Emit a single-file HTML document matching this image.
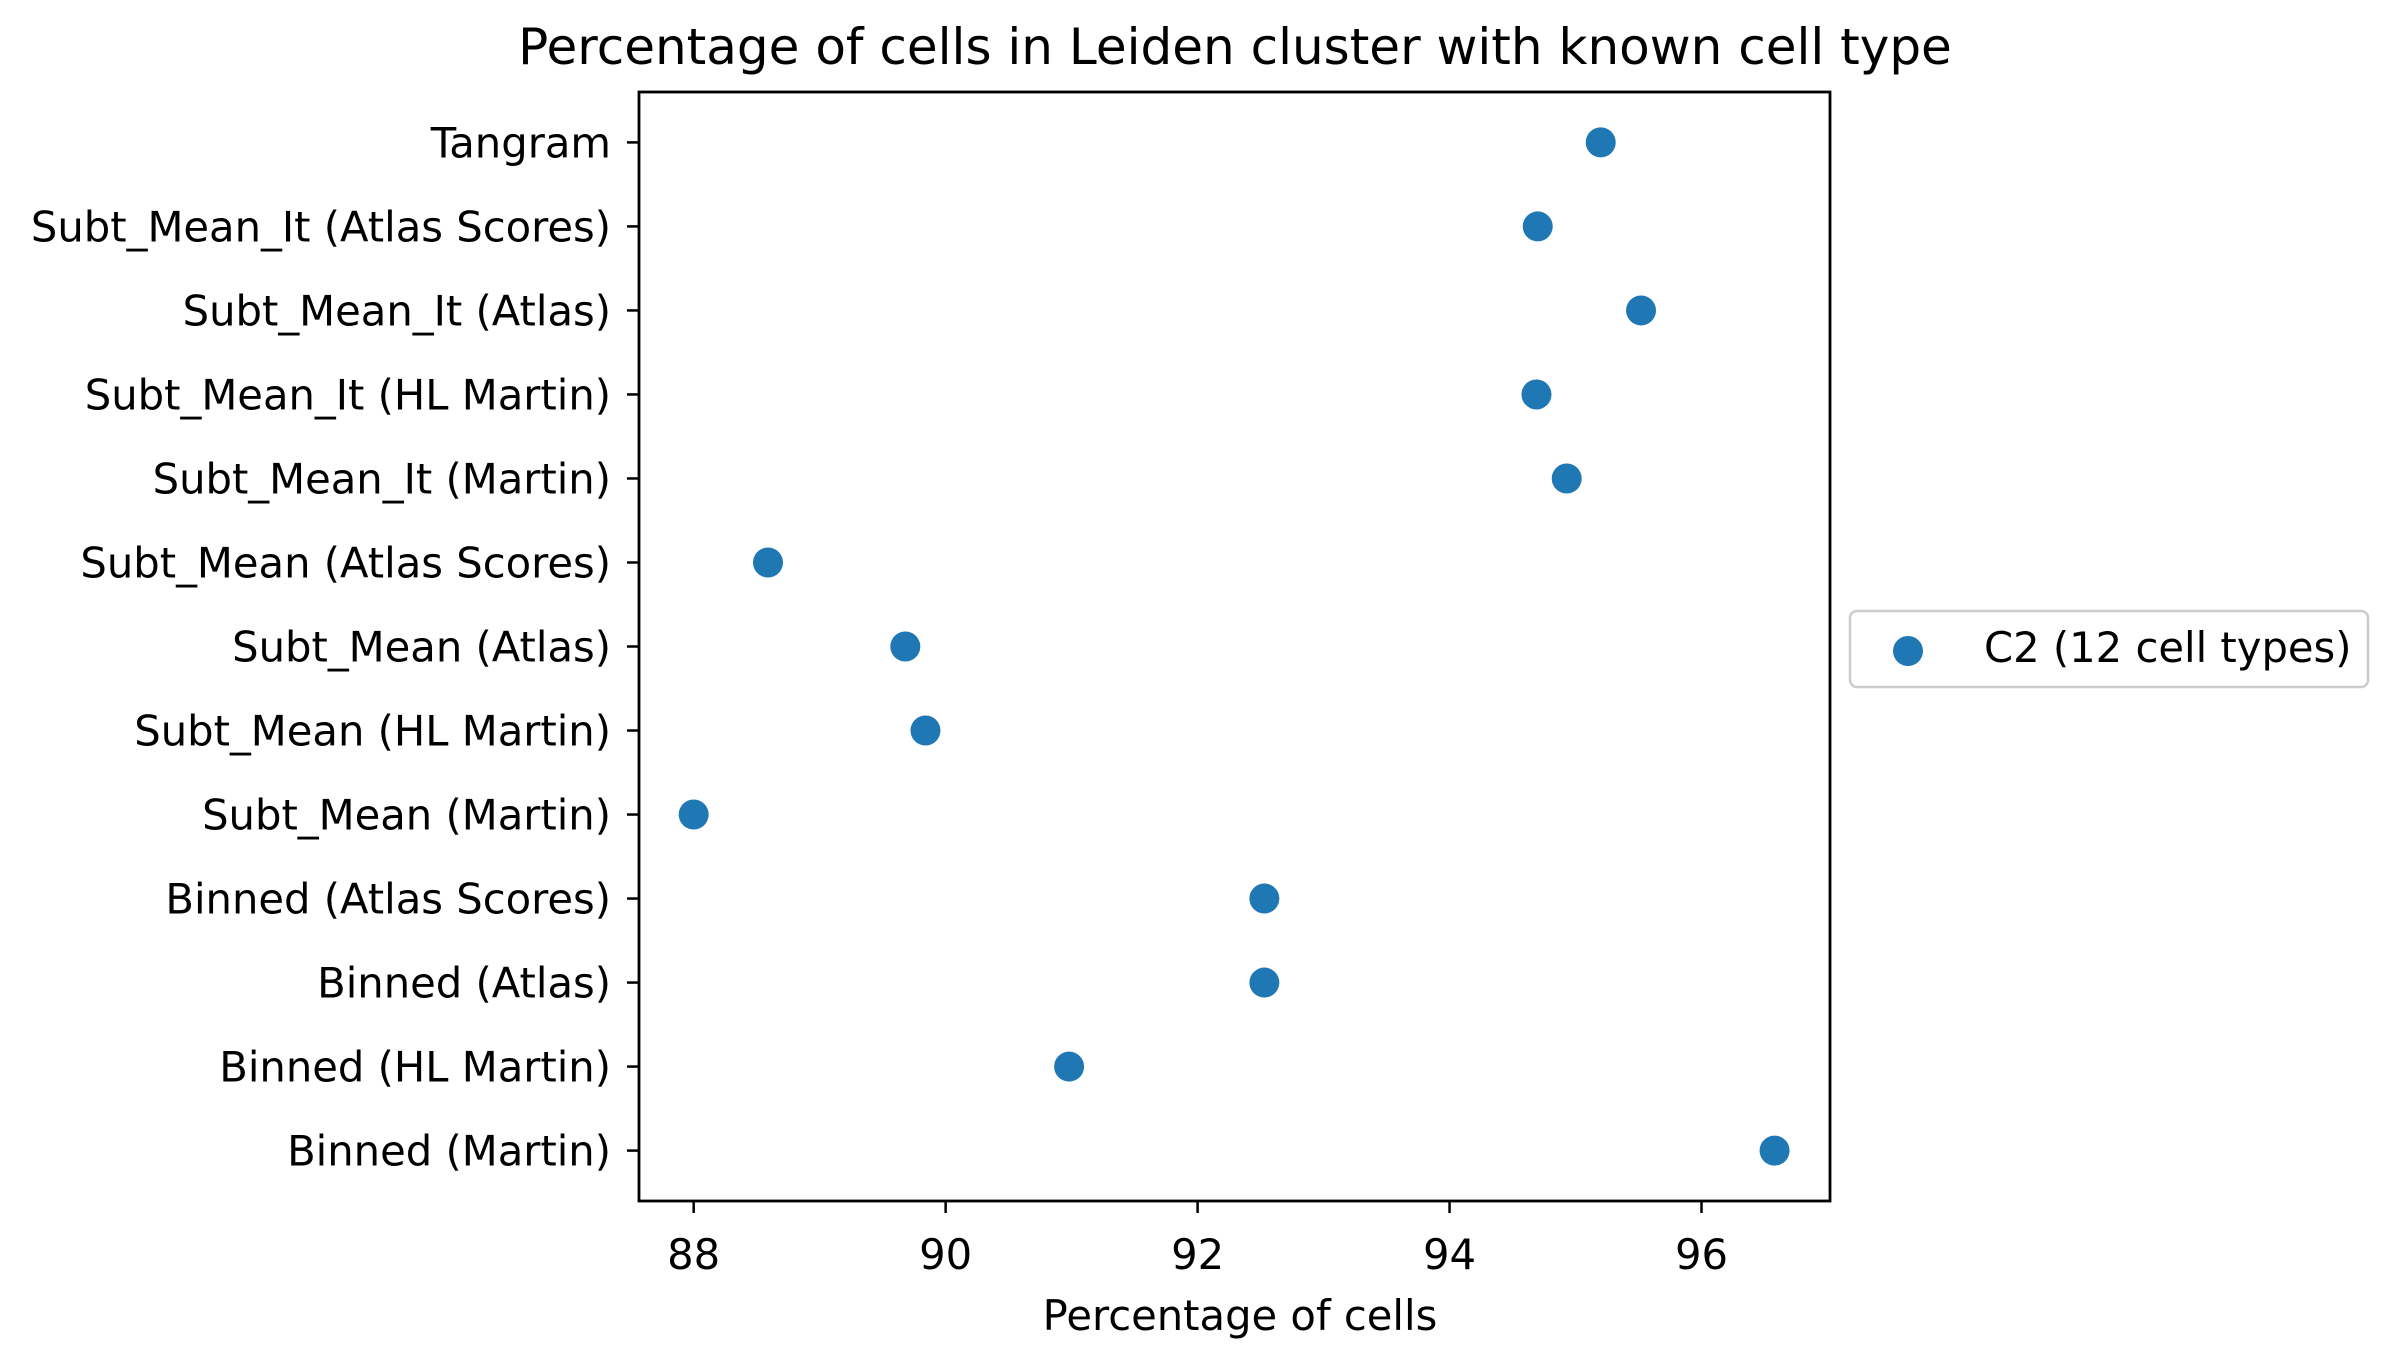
<!DOCTYPE html>
<html><head><meta charset="utf-8"><style>
html,body{margin:0;padding:0;background:#fff;}
svg{display:block;font-family:"DejaVu Sans","Liberation Sans",sans-serif;}
</style></head><body>
<svg id="chart" width="2397" height="1361" viewBox="0 0 2397 1361" xmlns="http://www.w3.org/2000/svg">
<rect width="2397" height="1361" fill="#fff"/>
<text x="1235" y="64" font-size="50" text-anchor="middle">Percentage of cells in Leiden cluster with known cell type</text>
<g id="plot"></g>
<rect x="639" y="92" width="1191" height="1109" fill="none" stroke="#000" stroke-width="2.8"/>
<text x="1240" y="1330" font-size="41.7" text-anchor="middle">Percentage of cells</text>
<g>
<rect x="1850" y="611" width="518" height="76" rx="7" fill="#fff" stroke="#ccc" stroke-width="2.5"/>
<circle cx="1908" cy="651" r="15" fill="#1f77b4"/>
<text x="1984" y="662" font-size="41.7">C2 (12 cell types)</text>
</g>
</svg>
<script>
const categories = ["Binned (Martin)","Binned (HL Martin)","Binned (Atlas)","Binned (Atlas Scores)","Subt_Mean (Martin)","Subt_Mean (HL Martin)","Subt_Mean (Atlas)","Subt_Mean (Atlas Scores)","Subt_Mean_It (Martin)","Subt_Mean_It (HL Martin)","Subt_Mean_It (Atlas)","Subt_Mean_It (Atlas Scores)","Tangram"];
const values = [96.58,90.98,92.53,92.53,88.0,89.84,89.68,88.59,94.93,94.69,95.52,94.70,95.2];
const xTicks = [88,90,92,94,96];
const NS = "http://www.w3.org/2000/svg";
const L=639,R=1830,T=92,B=1201, xmin=87.566, xmax=97.02, ymin=-0.6, ymax=12.6;
function xs(v){return L+(v-xmin)/(xmax-xmin)*(R-L);}
function ys(i){return B-(i-ymin)/(ymax-ymin)*(B-T);}
const g=document.getElementById('plot');
function mk(tag,attrs){const e=document.createElementNS(NS,tag);for(const k in attrs)e.setAttribute(k,attrs[k]);g.appendChild(e);return e;}
xTicks.forEach(t=>{
  const x=xs(t);
  const tk=mk('line',{x1:x,x2:x,y1:B,y2:B+12,stroke:'#000','stroke-width':2.5});
  
  
  const tx=mk('text',{x:x,y:B+68,'font-size':41.7,'text-anchor':'middle'});
  tx.textContent=t;
  
  
});
categories.forEach((c,i)=>{
  const y=ys(i);
  const tk=mk('line',{x1:L-12,x2:L,y1:y,y2:y,stroke:'#000','stroke-width':2.5});
  
  
  const tx=mk('text',{x:L-28,y:y+15,'font-size':41.7,'text-anchor':'end'});
  tx.textContent=c;
  
  
});
values.forEach((v,i)=>{
  const p=mk('circle',{cx:xs(v),cy:ys(i),r:15,fill:'#1f77b4'});
  
  
});
</script>
</body></html>
